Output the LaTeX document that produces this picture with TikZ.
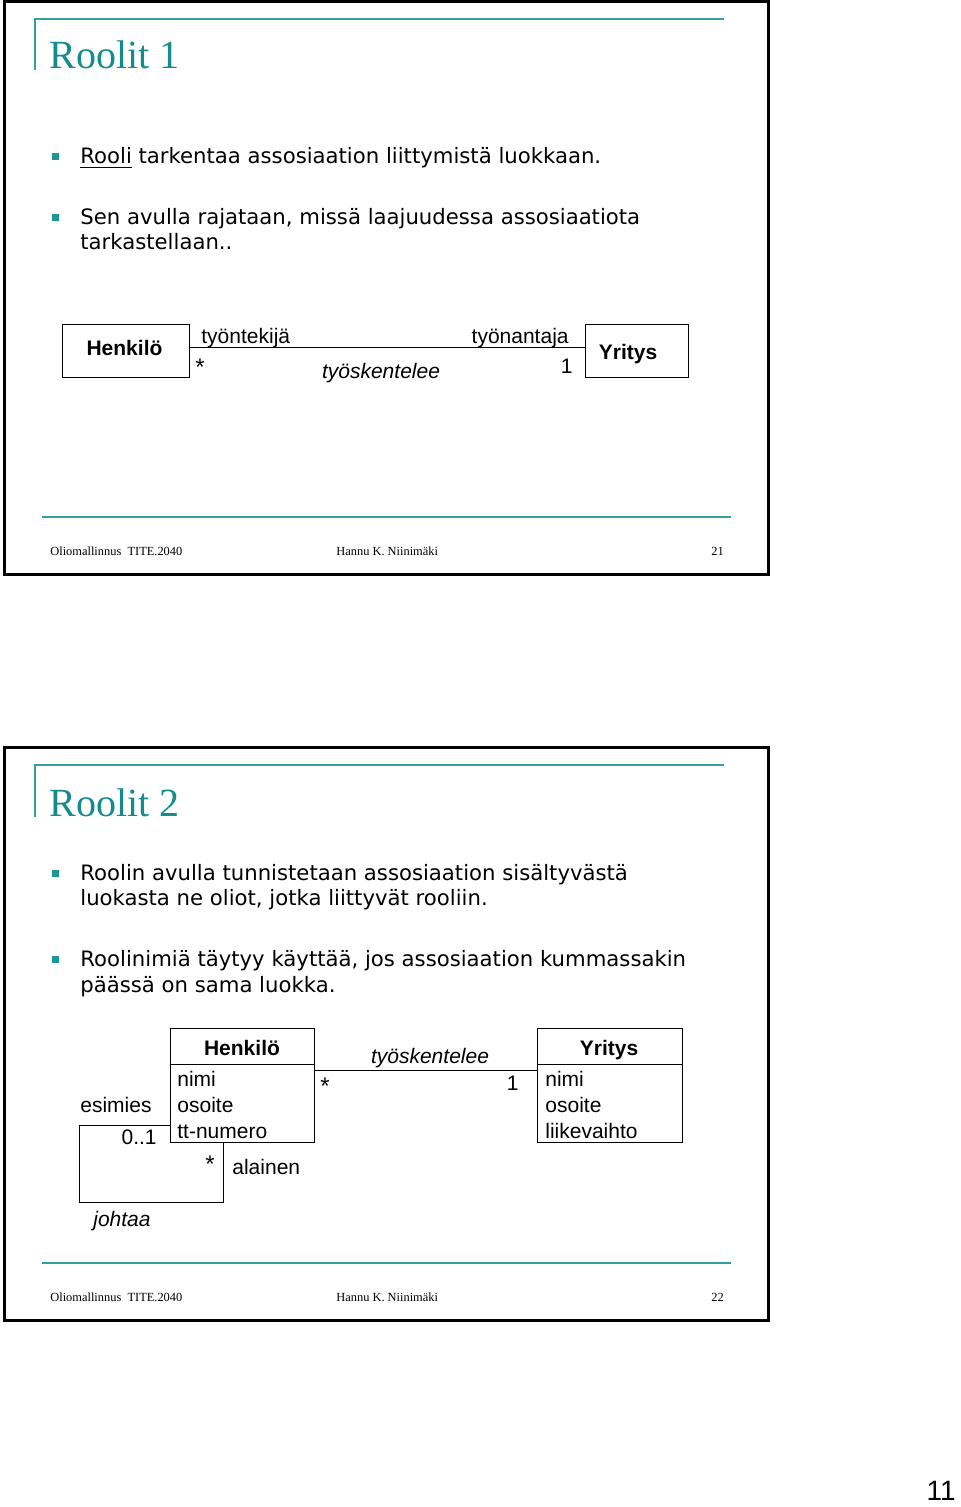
\documentclass[tikz,border=0pt]{standalone}
\usepackage{fontspec}
\setmainfont{DejaVu Sans}
\newfontfamily\arialf{Liberation Sans}
\newfontfamily\serff{Liberation Serif}
\definecolor{ttl}{RGB}{20,140,140}
\definecolor{tline}{RGB}{50,160,160}
\definecolor{bsq}{RGB}{30,150,150}
\begin{document}
\begin{tikzpicture}[x=0.5pt,y=-0.5pt,
  frame/.style={draw=black,line width=1.5pt},
  tl/.style={draw=tline,line width=1pt},
  fl/.style={draw=tline,line width=1.3pt},
  ttext/.style={anchor=base west,inner sep=0pt,text=ttl,font=\serff\fontsize{20}{24}\selectfont},
  bsquare/.style={fill=bsq,inner sep=0pt,minimum size=3.5pt},
  btxt/.style={anchor=base west,inner sep=0pt,font=\fontsize{10.6}{12}\selectfont},
  foot/.style={anchor=base west,inner sep=0pt,font=\serff\fontsize{6.2}{7}\selectfont},
  dtxt/.style={anchor=base west,inner sep=0pt,font=\arialf\fontsize{10.5}{12}\selectfont},
  dtxtr/.style={anchor=base east,inner sep=0pt,font=\arialf\fontsize{10.5}{12}\selectfont},
  dstar/.style={anchor=base west,inner sep=0pt,font=\arialf\fontsize{12}{12}\selectfont},
  ditl/.style={anchor=base,inner sep=0pt,font=\arialf\itshape\fontsize{10.5}{12}\selectfont},
  dbold/.style={anchor=base,inner sep=0pt,font=\arialf\bfseries\fontsize{10.5}{12}\selectfont},
  cbox/.style={draw=black,line width=0.5pt,inner sep=0pt},
  conn/.style={draw=black,line width=0.5pt}]
\useasboundingbox (0,0) rectangle (960,1507);
\fill[white] (0,0) rectangle (960,1507);

% ---------------- Slide 1 ----------------
\draw[frame] (4,2) rectangle (768,574);
\draw[tl] (35,70) -- (35,19) -- (724,19);
\node[ttext] (t1) at (49,69) {Roolit 1};
\node[bsquare] (b1) at (55.5,157) {};
\node[btxt] (l1) at (80,164) {\underline{Rooli} tarkentaa assosiaation liittymistä luokkaan.};
\node[bsquare] (b2) at (55.5,218) {};
\node[btxt] (l2) at (80,225) {Sen avulla rajataan, missä laajuudessa assosiaatiota};
\node[btxt] (l3) at (80,250) {tarkastellaan..};

\node[cbox,minimum width=63.5pt,minimum height=26.5pt] (h1) at (125.5,351.5) {};
\node[dbold] (h1t) at (124.5,356) {Henkilö};
\node[cbox,minimum width=51.5pt,minimum height=26.5pt] (y1) at (636.5,351.5) {};
\node[dbold] (y1t) at (628,360) {Yritys};
\coordinate (ly) at (0,348);
\draw[conn] (h1.east |- ly) -- (y1.west |- ly);
\node[dtxt] (r1) at (201,344) {työntekijä};
\node[dtxtr] (r2) at (569,344) {työnantaja};
\node[dstar] (m1) at (195,376) {*};
\node[dtxtr] (m2) at (573,374) {1};
\node[ditl] (a1) at (381,379) {työskentelee};

\draw[fl] (42,517) -- (731,517);
\node[foot] (f1) at (50,555) {Oliomallinnus\ \ TITE.2040};
\node[foot] (f2) at (336,555) {Hannu K. Niinimäki};
\node[foot] (f3) at (711,555) {21};

% ---------------- Slide 2 ----------------
\draw[frame] (4,747) rectangle (768,1320);
\draw[tl] (35,817) -- (35,765) -- (724,765);
\node[ttext] (t2) at (49,816) {Roolit 2};
\node[bsquare] (b3) at (55.5,873) {};
\node[btxt] (l4) at (80,880) {Roolin avulla tunnistetaan assosiaation sisältyvästä};
\node[btxt] (l5) at (80,905) {luokasta ne oliot, jotka liittyvät rooliin.};
\node[bsquare] (b4) at (55.5,959) {};
\node[btxt] (l6) at (80,966) {Roolinimiä täytyy käyttää, jos assosiaation kummassakin};
\node[btxt] (l7) at (80,992) {päässä on sama luokka.};

% class Henkilö
\node[cbox,minimum width=72pt,minimum height=57pt] (h2) at (242,1085) {};
\coordinate (sep) at (0,1064);
\draw[conn] (h2.west |- sep) -- (h2.east |- sep);
\node[dbold] (h2t) at (242,1055) {Henkilö};
\node[dtxt] (h2a) at (177,1086) {nimi};
\node[dtxt] (h2b) at (177,1112) {osoite};
\node[dtxt] (h2c) at (177,1138) {tt-numero};
% class Yritys
\node[cbox,minimum width=72.5pt,minimum height=57pt] (y2) at (609.5,1085) {};
\draw[conn] (y2.west |- sep) -- (y2.east |- sep);
\node[dbold] (y2t) at (609,1055) {Yritys};
\node[dtxt] (y2a) at (545,1086) {nimi};
\node[dtxt] (y2b) at (545,1112) {osoite};
\node[dtxt] (y2c) at (545,1138) {liikevaihto};
% association
\coordinate (asy) at (0,1070);
\draw[conn] (h2.east |- asy) -- (y2.west |- asy);
\node[ditl] (a2) at (430,1063) {työskentelee};
\node[dstar] (m3) at (320,1094) {*};
\node[dtxtr] (m4) at (519,1090) {1};
% self association
\coordinate (c1) at (79,1125);
\coordinate (c2) at (79,1202);
\coordinate (c3) at (223,1202);
\draw[conn] (c1 -| h2.west) -- (c1) -- (c2) -- (c3) -- (c3 |- h2.south);
\node[dtxt] (e1) at (80,1112) {esimies};
\node[dtxtr] (e2) at (157,1144) {0..1};
\node[dstar] (e3) at (205,1172) {*};
\node[dtxt] (e4) at (232,1174) {alainen};
\node[ditl] (e5) at (122,1226) {johtaa};

\draw[fl] (42,1263) -- (731,1263);
\node[foot] (f4) at (50,1301) {Oliomallinnus\ \ TITE.2040};
\node[foot] (f5) at (336,1301) {Hannu K. Niinimäki};
\node[foot] (f6) at (711,1301) {22};

% page number
\node[anchor=base east,inner sep=0pt,font=\arialf\fontsize{14}{16}\selectfont] (pg) at (956,1500) {11};
\end{tikzpicture}
\end{document}
